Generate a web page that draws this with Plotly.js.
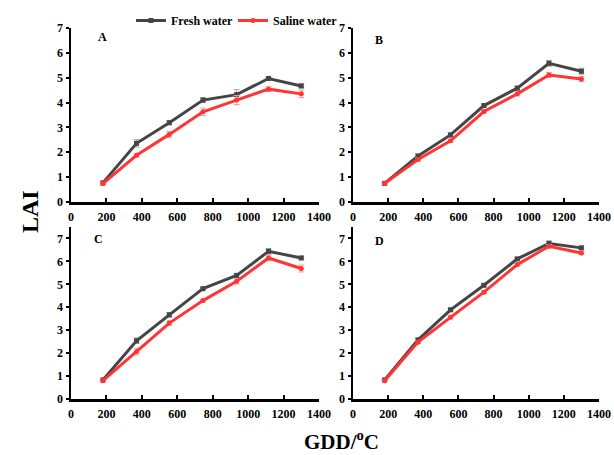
<!DOCTYPE html>
<html><head><meta charset="utf-8">
<script src="https://cdn.plot.ly/plotly-3.0.1.min.js"></script>
<style>html,body{margin:0;padding:0;background:#fff;overflow:hidden}#c{width:614px;height:455px}</style>
</head><body><div id="c"></div>
<script>
const gdd = [180, 370, 555, 745, 935, 1115, 1300];
const freshA = [0.77, 2.36, 3.19, 4.10, 4.32, 4.97, 4.67];
const salineA = [0.74, 1.88, 2.72, 3.63, 4.10, 4.54, 4.35];
const freshB = [0.75, 1.85, 2.70, 3.88, 4.58, 5.58, 5.26];
const salineB = [0.75, 1.71, 2.46, 3.64, 4.35, 5.11, 4.95];
const freshC = [0.83, 2.54, 3.67, 4.81, 5.39, 6.44, 6.15];
const salineC = [0.80, 2.07, 3.31, 4.29, 5.13, 6.15, 5.69];
const freshD = [0.83, 2.58, 3.89, 4.96, 6.11, 6.78, 6.59];
const salineD = [0.80, 2.48, 3.56, 4.66, 5.86, 6.66, 6.37];
const errFreshA = [0.05, 0.15, 0.08, 0.10, 0.20, 0.05, 0.08];
const errSalineA = [0.05, 0.06, 0.12, 0.15, 0.18, 0.10, 0.15];
const errFreshB = [0.04, 0.08, 0.08, 0.06, 0.08, 0.12, 0.12];
const errSalineB = [0.04, 0.06, 0.06, 0.06, 0.08, 0.10, 0.10];
const errFreshC = [0.04, 0.12, 0.10, 0.06, 0.08, 0.12, 0.08];
const errSalineC = [0.04, 0.15, 0.10, 0.06, 0.12, 0.12, 0.15];
const errFreshD = [0.04, 0.06, 0.06, 0.06, 0.06, 0.12, 0.08];
const errSalineD = [0.04, 0.06, 0.06, 0.06, 0.06, 0.08, 0.08];
const panelLabels = ['A', 'B', 'C', 'D'];
const seriesNames = ['Fresh water', 'Saline water'];
const xTicks = [0, 200, 400, 600, 800, 1000, 1200, 1400];
const yTicks = [0, 1, 2, 3, 4, 5, 6, 7];

const freshColor = '#454545', salineColor = '#ff3535';
const font = {family: 'Liberation Serif, Times New Roman, serif', color: '#000', weight: 'bold'};

const panels = [
  {f: freshA, s: salineA, ef: errFreshA, es: errSalineA},
  {f: freshB, s: salineB, ef: errFreshB, es: errSalineB},
  {f: freshC, s: salineC, ef: errFreshC, es: errSalineC},
  {f: freshD, s: salineD, ef: errFreshD, es: errSalineD}
];
const traces = [];
panels.forEach((p, i) => {
  const xa = i === 0 ? 'x' : 'x' + (i + 1);
  const ya = i === 0 ? 'y' : 'y' + (i + 1);
  traces.push({x: gdd, y: p.f, xaxis: xa, yaxis: ya, type: 'scatter', mode: 'lines+markers',
    name: seriesNames[0], showlegend: i === 0, legend: 'legend',
    line: {color: freshColor, width: 3}, marker: {color: freshColor, size: 5, symbol: 'square'},
    error_y: {type: 'data', array: p.ef, color: '#aaaaaa', thickness: 1, width: 3}});
  traces.push({x: gdd, y: p.s, xaxis: xa, yaxis: ya, type: 'scatter', mode: 'lines+markers',
    name: seriesNames[1], showlegend: i === 0, legend: 'legend2',
    line: {color: salineColor, width: 3}, marker: {color: salineColor, size: 5, symbol: 'circle'},
    error_y: {type: 'data', array: p.es, color: '#ff9a9a', thickness: 1, width: 3}});
});

function xax(dom, anchor) {
  return {domain: dom, anchor: anchor, range: [0, 1400], tickvals: xTicks,
    showgrid: false, zeroline: false, showline: true, linewidth: 2.5, linecolor: '#000',
    ticks: 'inside', ticklen: 4, tickwidth: 2, tickcolor: '#000', ticklabeloverflow: 'allow',
    ticklabelstandoff: 2, tickfont: {...font, size: 12}, fixedrange: true};
}
function yax(dom, anchor, top) {
  return {domain: dom, anchor: anchor, range: [0, top], tickvals: yTicks,
    showgrid: false, zeroline: false, showline: true, linewidth: 2.5, linecolor: '#000',
    ticks: 'outside', ticklen: 3, tickwidth: 2, tickcolor: '#000',
    tickfont: {...font, size: 12}, fixedrange: true};
}
const dx1 = [71/614, 319/614], dx2 = [353/614, 599/614];
const dyTop = [1 - 202/455, 1 - 28/455], dyBot = [1 - 399/455, 1 - 227/455];

function ann(text, px, py, size, extra) {
  return Object.assign({text: text, xref: 'paper', yref: 'paper', x: px/614, y: 1 - py/455,
    xanchor: 'center', yanchor: 'middle', showarrow: false, font: {...font, size: size}}, extra || {});
}
const legendBase = {orientation: 'h', y: 1 - 6/455, xanchor: 'left', yanchor: 'top',
  font: {...font, size: 12}, itemwidth: 30, bgcolor: 'rgba(0,0,0,0)'};

const layout = {
  width: 614, height: 455, margin: {l: 0, r: 0, t: 0, b: 0},
  paper_bgcolor: '#fff', plot_bgcolor: 'rgba(0,0,0,0)', font: font,
  xaxis: xax(dx1, 'y'), yaxis: yax(dyTop, 'x', 7),
  xaxis2: xax(dx2, 'y2'), yaxis2: yax(dyTop, 'x2', 7),
  xaxis3: xax(dx1, 'y3'), yaxis3: yax(dyBot, 'x3', 7.5),
  xaxis4: xax(dx2, 'y4'), yaxis4: yax(dyBot, 'x4', 7.5),
  showlegend: true,
  legend: {...legendBase, x: 131/614},
  legend2: {...legendBase, x: 233/614},
  annotations: [
    ann(panelLabels[0], 102, 37, 12),
    ann(panelLabels[1], 379, 40, 12),
    ann(panelLabels[2], 99, 239, 12),
    ann(panelLabels[3], 379, 241, 12),
    ann('LAI', 30, 212, 24, {textangle: -90}),
    ann('GDD/<sup>o</sup>C', 341, 440, 21)
  ]
};
Plotly.newPlot('c', traces, layout, {displayModeBar: false, staticPlot: true});
</script></body></html>
